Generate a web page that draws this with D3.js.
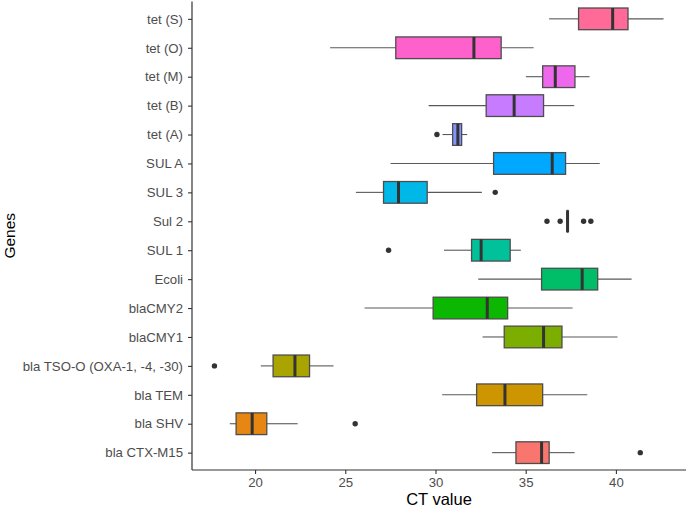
<!DOCTYPE html>
<html>
<head>
<meta charset="utf-8">
<script src="https://cdn.jsdelivr.net/npm/d3@7"></script>
<style>
  body { margin: 0; background: #fff; }
  svg { display: block; font-family: "Liberation Sans", Arial, sans-serif; }
</style>
</head>
<body>
<svg id="chart" width="688" height="510"></svg>
<script>
// Factor levels, bottom to top
const genes = ["bla CTX-M15", "bla SHV", "bla TEM", "bla TSO-O (OXA-1, -4, -30)", "blaCMY1", "blaCMY2",
  "Ecoli", "SUL 1", "Sul 2", "SUL 3", "SUL A", "tet (A)", "tet (B)", "tet (M)", "tet (O)", "tet (S)"];
const lowerWhisker = [33.14, 18.60, 30.37, 20.32, 32.61, 26.07, 32.37, 30.47, 37.30, 25.59, 27.51, 30.39, 29.62, 35.01, 24.16, 36.30];
const q1Values     = [34.46, 18.95, 32.28, 21.00, 33.81, 29.87, 35.88, 32.00, 37.30, 27.12, 33.22, 30.95, 32.81, 35.94, 27.80, 37.93];
const medianValues = [35.88, 19.84, 33.85, 22.21, 35.99, 32.87, 38.13, 32.53, 37.32, 27.95, 36.47, 31.24, 34.36, 36.64, 32.13, 39.82];
const q3Values     = [36.30, 20.65, 35.94, 23.02, 37.01, 34.00, 38.99, 34.14, 37.34, 29.54, 37.21, 31.45, 35.99, 37.73, 33.64, 40.67];
const upperWhisker = [37.71, 22.36, 38.41, 24.35, 40.09, 37.60, 40.87, 34.73, 37.34, 32.57, 39.10, 31.76, 37.69, 38.54, 35.44, 42.64];
const outliers = [[41.35], [25.55], [], [17.75], [], [], [], [27.40], [36.18, 36.91, 38.21, 38.61], [33.31], [], [30.08], [], [], [], []];
const fillColors = ["#F8766D", "#E68613", "#CD9600", "#A9A400", "#7CAE00", "#0CB702", "#00BE67", "#00C19A",
  "#00BFC4", "#00B8E7", "#00A9FF", "#8494FF", "#C77CFF", "#ED68ED", "#FF61CC", "#FF6A98"];
const xTicks = [20, 25, 30, 35, 40];

const svg = d3.select("#chart");
const panel = { left: 192, right: 686, top: 1.5, bottom: 470 };

const allVals = lowerWhisker.concat(upperWhisker, outliers.flat());
const lo = d3.min(allVals), hi = d3.max(allVals), pad = (hi - lo) * 0.05;
const x = d3.scaleLinear().domain([lo - pad, hi + pad]).range([panel.left, panel.right]);
const y = d3.scalePoint().domain(genes).range([panel.bottom, panel.top]).padding(0.6);
const boxH = y.step() * 0.75;

const data = genes.map((g, i) => ({
  gene: g, lw: lowerWhisker[i], q1: q1Values[i], med: medianValues[i], q3: q3Values[i],
  uw: upperWhisker[i], out: outliers[i], fill: fillColors[i]
}));

const g = svg.append("g");
const box = g.selectAll("g.box").data(data).join("g").attr("class", "box");

// whiskers
box.append("line")
  .attr("x1", d => x(d.lw)).attr("x2", d => x(d.q1))
  .attr("y1", d => y(d.gene)).attr("y2", d => y(d.gene))
  .attr("stroke", "#595959").attr("stroke-width", 1.1);
box.append("line")
  .attr("x1", d => x(d.q3)).attr("x2", d => x(d.uw))
  .attr("y1", d => y(d.gene)).attr("y2", d => y(d.gene))
  .attr("stroke", "#595959").attr("stroke-width", 1.1);
// boxes
box.append("rect")
  .attr("x", d => x(d.q1)).attr("width", d => Math.max(0, x(d.q3) - x(d.q1)))
  .attr("y", d => y(d.gene) - boxH / 2).attr("height", boxH)
  .attr("fill", d => d.fill).attr("stroke", "#4d4d4d").attr("stroke-width", 1.3);
// medians
box.append("line")
  .attr("x1", d => x(d.med)).attr("x2", d => x(d.med))
  .attr("y1", d => y(d.gene) - boxH / 2).attr("y2", d => y(d.gene) + boxH / 2)
  .attr("stroke", "#333333").attr("stroke-width", 3);
// outliers
box.selectAll("circle").data(d => d.out.map(v => ({ v, gene: d.gene }))).join("circle")
  .attr("cx", d => x(d.v)).attr("cy", d => y(d.gene)).attr("r", 2.7)
  .attr("fill", "#333333");

// axes
const xAxis = d3.axisBottom(x).tickValues(xTicks).tickSize(4).tickPadding(4).tickSizeOuter(0);
const yAxis = d3.axisLeft(y).tickSize(4).tickPadding(5).tickSizeOuter(0);

const gx = svg.append("g").attr("transform", `translate(0,${panel.bottom})`).call(xAxis);
const gy = svg.append("g").attr("transform", `translate(${panel.left},0)`).call(yAxis);
[gx, gy].forEach(ax => {
  ax.select(".domain").attr("stroke", "#333333").attr("stroke-width", 1.2);
  ax.selectAll(".tick line").attr("stroke", "#333333").attr("stroke-width", 1.1);
  ax.selectAll(".tick text").attr("fill", "#4d4d4d").style("font-size", "13.2px")
    .style("font-family", "'Liberation Sans', Arial, sans-serif");
});
gx.select(".domain").attr("d", `M${panel.left},0H${panel.right}`);
gy.select(".domain").attr("d", `M0,${panel.bottom}V${panel.top}`);

// titles
svg.append("text").attr("x", (panel.left + panel.right) / 2).attr("y", 505)
  .attr("text-anchor", "middle").attr("fill", "#000").style("font-size", "16.5px").text("CT value");
svg.append("text").attr("transform", `translate(14.5,${(panel.top + panel.bottom) / 2}) rotate(-90)`)
  .attr("text-anchor", "middle").attr("fill", "#000").style("font-size", "15.5px").text("Genes");
</script>
</body>
</html>
